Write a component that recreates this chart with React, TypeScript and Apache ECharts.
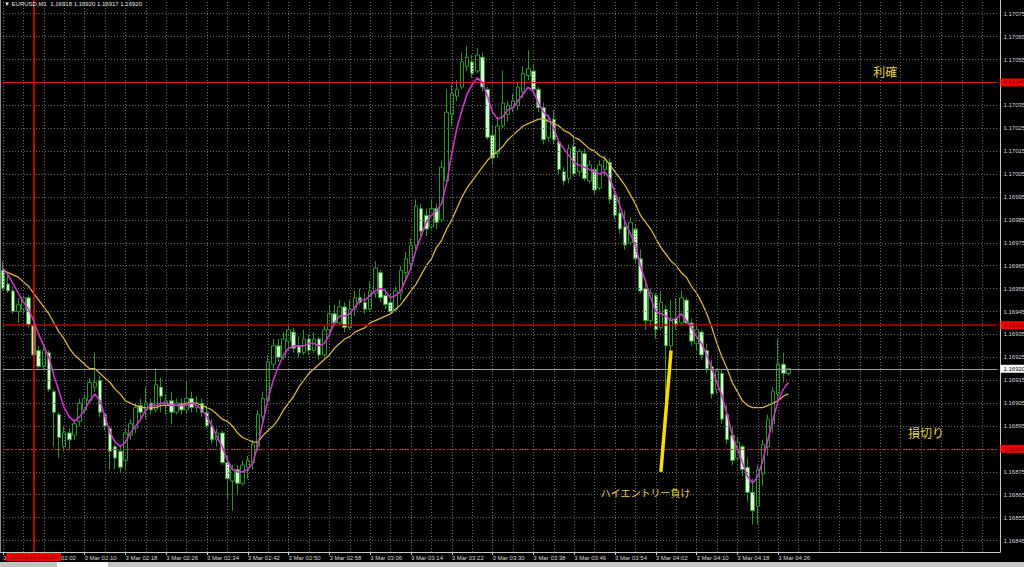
import React, { useEffect, useRef } from "react";
import * as echarts from "echarts";

const symbolName = "EURUSD,M1";
const dayLabel = "3 Mar";
const startMinute = 114; // 01:54
const futureBars = 41;

// [open, close, low, high]
const candles: number[][] = [
  [1.16963, 1.16955, 1.16954, 1.16967], [1.16957, 1.16954, 1.16953, 1.16961], [1.16954, 1.16945, 1.16944, 1.16956],
  [1.16945, 1.16948, 1.1694, 1.16951], [1.16946, 1.16951, 1.16944, 1.16952], [1.16951, 1.16939, 1.16938, 1.16952],
  [1.16939, 1.16926, 1.16925, 1.1694], [1.16928, 1.16921, 1.1692, 1.1693], [1.16921, 1.16928, 1.1692, 1.1693],
  [1.16927, 1.16911, 1.1691, 1.16928], [1.1691, 1.16901, 1.16886, 1.16911], [1.169, 1.1689, 1.16881, 1.16901],
  [1.16886, 1.16892, 1.16884, 1.16895], [1.16892, 1.16889, 1.16885, 1.16894], [1.16891, 1.16896, 1.16889, 1.16898],
  [1.16897, 1.16905, 1.16895, 1.16907], [1.16902, 1.16907, 1.169, 1.16909], [1.16906, 1.16914, 1.16905, 1.16916],
  [1.16912, 1.16914, 1.1691, 1.16927], [1.16915, 1.16901, 1.16899, 1.16917], [1.169, 1.16895, 1.16893, 1.16901],
  [1.16894, 1.16884, 1.16876, 1.16895], [1.16886, 1.16881, 1.16876, 1.16887], [1.16884, 1.16877, 1.16875, 1.16886],
  [1.1688, 1.16892, 1.16876, 1.16894], [1.16891, 1.16896, 1.16889, 1.16898], [1.16894, 1.16903, 1.16892, 1.16905],
  [1.16904, 1.16901, 1.16898, 1.16907], [1.16902, 1.16905, 1.16898, 1.16912], [1.16905, 1.16902, 1.169, 1.16907],
  [1.16902, 1.16913, 1.16901, 1.1692], [1.16912, 1.16908, 1.16901, 1.16916], [1.16904, 1.16906, 1.169, 1.16909],
  [1.16906, 1.16901, 1.16896, 1.1691], [1.16901, 1.16905, 1.169, 1.16907], [1.16905, 1.16902, 1.169, 1.16907],
  [1.16902, 1.16907, 1.169, 1.16915], [1.16907, 1.16903, 1.16901, 1.1691], [1.16903, 1.16905, 1.16901, 1.16908],
  [1.16905, 1.16901, 1.16899, 1.16907], [1.16901, 1.16895, 1.16894, 1.16904], [1.16895, 1.16889, 1.16887, 1.16898],
  [1.16889, 1.16892, 1.16886, 1.16894], [1.16892, 1.16879, 1.16878, 1.16893], [1.16879, 1.16872, 1.16863, 1.16882],
  [1.16871, 1.16876, 1.16858, 1.16878], [1.16876, 1.1687, 1.16865, 1.16878], [1.1687, 1.16878, 1.16869, 1.1688],
  [1.16877, 1.1688, 1.16872, 1.16882], [1.16879, 1.16887, 1.16876, 1.16889], [1.16886, 1.169, 1.16884, 1.16902],
  [1.16899, 1.16907, 1.16897, 1.1691], [1.16906, 1.16923, 1.16905, 1.16926], [1.16922, 1.1693, 1.1692, 1.16933],
  [1.1693, 1.16925, 1.16923, 1.16933], [1.16925, 1.16933, 1.16924, 1.16936], [1.16932, 1.16937, 1.16929, 1.16939],
  [1.16936, 1.16929, 1.16927, 1.16938], [1.1693, 1.16927, 1.16925, 1.16934], [1.16927, 1.16933, 1.16926, 1.16937],
  [1.16933, 1.16928, 1.16926, 1.16935], [1.16928, 1.16933, 1.16927, 1.16936], [1.16933, 1.16926, 1.16924, 1.16934],
  [1.16926, 1.16937, 1.16925, 1.16939], [1.16937, 1.16944, 1.16934, 1.16948], [1.16944, 1.1694, 1.16939, 1.16948],
  [1.1694, 1.16947, 1.16939, 1.1695], [1.16947, 1.16938, 1.16936, 1.16949], [1.16938, 1.16946, 1.16937, 1.1695],
  [1.16946, 1.16951, 1.16943, 1.16954], [1.16951, 1.16949, 1.16948, 1.16955], [1.16949, 1.16946, 1.16944, 1.16953],
  [1.16946, 1.16954, 1.16945, 1.16958], [1.16953, 1.16964, 1.16951, 1.16967], [1.16962, 1.16951, 1.16949, 1.16963],
  [1.16952, 1.16948, 1.16946, 1.16955], [1.16949, 1.16945, 1.16944, 1.16953], [1.16946, 1.16954, 1.16945, 1.16956],
  [1.16953, 1.16963, 1.1695, 1.16965], [1.16962, 1.16968, 1.16958, 1.16971], [1.16966, 1.16974, 1.16963, 1.16977],
  [1.16974, 1.16991, 1.16972, 1.16994], [1.1699, 1.1698, 1.16977, 1.16992], [1.16987, 1.16981, 1.16978, 1.1699],
  [1.16982, 1.1699, 1.16981, 1.16994], [1.1699, 1.16984, 1.16981, 1.16992], [1.16985, 1.17008, 1.16984, 1.17011],
  [1.17002, 1.17032, 1.17001, 1.17042], [1.17031, 1.1704, 1.17026, 1.17044], [1.17039, 1.17042, 1.17037, 1.17046],
  [1.17043, 1.17054, 1.17042, 1.17058], [1.17052, 1.17056, 1.1705, 1.17061], [1.17054, 1.17049, 1.17047, 1.17057],
  [1.1705, 1.17057, 1.17049, 1.1706], [1.17056, 1.17043, 1.17041, 1.17058], [1.17042, 1.17021, 1.1702, 1.17043],
  [1.17022, 1.17012, 1.17009, 1.17026], [1.17014, 1.17026, 1.17012, 1.1703], [1.17026, 1.17036, 1.17025, 1.1705],
  [1.17031, 1.17035, 1.17028, 1.17037], [1.17034, 1.17037, 1.17032, 1.1704], [1.17035, 1.17043, 1.17033, 1.17045],
  [1.17041, 1.17049, 1.17038, 1.17052], [1.17048, 1.17051, 1.17046, 1.17059], [1.1705, 1.17042, 1.1704, 1.17053],
  [1.17042, 1.17034, 1.17032, 1.17043], [1.17034, 1.1702, 1.17018, 1.17036], [1.17021, 1.17029, 1.17019, 1.17031],
  [1.17029, 1.1702, 1.17018, 1.17033], [1.17019, 1.17007, 1.17005, 1.1702], [1.17006, 1.17002, 1.17, 1.17008],
  [1.17003, 1.17016, 1.17001, 1.17018], [1.17017, 1.17005, 1.17004, 1.17022], [1.17006, 1.17015, 1.17004, 1.17016],
  [1.17014, 1.17003, 1.17002, 1.17016], [1.17002, 1.17009, 1.17001, 1.17011], [1.17007, 1.16998, 1.16996, 1.17008],
  [1.16999, 1.17009, 1.16998, 1.17011], [1.17007, 1.17011, 1.17004, 1.17013], [1.1701, 1.16994, 1.16992, 1.17012],
  [1.16996, 1.16987, 1.16985, 1.16999], [1.16988, 1.16981, 1.16979, 1.16995], [1.16982, 1.16974, 1.16972, 1.16989],
  [1.16975, 1.16984, 1.16974, 1.16986], [1.16981, 1.16968, 1.16966, 1.16983], [1.16968, 1.16954, 1.16953, 1.16972],
  [1.16955, 1.16941, 1.16937, 1.16959], [1.16941, 1.16953, 1.16939, 1.16955], [1.16952, 1.16937, 1.16933, 1.16953],
  [1.16938, 1.16949, 1.16937, 1.16954], [1.16946, 1.1693, 1.16898, 1.16948], [1.1693, 1.16942, 1.16928, 1.1695],
  [1.16942, 1.16939, 1.16937, 1.16951], [1.1694, 1.16951, 1.16939, 1.16954], [1.1695, 1.1694, 1.16939, 1.16951],
  [1.1694, 1.16932, 1.1693, 1.16942], [1.16931, 1.16937, 1.16928, 1.16939], [1.16936, 1.16926, 1.16924, 1.16937],
  [1.16928, 1.1692, 1.16918, 1.16931], [1.16921, 1.16909, 1.16907, 1.16924], [1.16911, 1.16919, 1.16909, 1.1692],
  [1.16918, 1.16898, 1.16896, 1.1692], [1.169, 1.16889, 1.16887, 1.16904], [1.16891, 1.1688, 1.16878, 1.16895],
  [1.16881, 1.16888, 1.1688, 1.1689], [1.16886, 1.16876, 1.16873, 1.16887], [1.16877, 1.16866, 1.16862, 1.16881],
  [1.16866, 1.16858, 1.16852, 1.16872], [1.1686, 1.16876, 1.16852, 1.16878], [1.16874, 1.16887, 1.16869, 1.16889],
  [1.16886, 1.16898, 1.16882, 1.169], [1.16896, 1.1691, 1.16892, 1.16912], [1.16909, 1.16922, 1.16906, 1.16933],
  [1.16922, 1.16918, 1.16914, 1.16927], [1.16918, 1.1692, 1.16917, 1.1692],
];

const fastMA = [
  1.16964, 1.16961, 1.16957, 1.16953, 1.16949, 1.16946, 1.16941, 1.16935, 1.1693, 1.16925,
  1.16917, 1.1691, 1.16903, 1.16899, 1.16897, 1.16899, 1.16902, 1.16906, 1.16909, 1.16906,
  1.16899, 1.16892, 1.16888, 1.16886, 1.16888, 1.16892, 1.16895, 1.16898, 1.16902, 1.16904,
  1.16904, 1.16905, 1.16905, 1.16904, 1.16904, 1.16904, 1.16904, 1.16905, 1.16904, 1.16902,
  1.16899, 1.16895, 1.1689, 1.16886, 1.1688, 1.16876, 1.16875, 1.16875, 1.16876, 1.16879,
  1.16887, 1.16897, 1.16907, 1.16915, 1.16921, 1.16926, 1.16929, 1.1693, 1.1693, 1.1693,
  1.16931, 1.16931, 1.1693, 1.16931, 1.16935, 1.1694, 1.16943, 1.16943, 1.16944, 1.16947,
  1.1695, 1.1695, 1.16952, 1.16954, 1.16955, 1.16954, 1.16951, 1.16952, 1.16954, 1.16959,
  1.16964, 1.16972, 1.16978, 1.16984, 1.16987, 1.16989, 1.16992, 1.17001, 1.17014, 1.17025,
  1.17033, 1.1704, 1.17044, 1.17047, 1.17045, 1.17039, 1.17032, 1.17029, 1.1703, 1.17033,
  1.17034, 1.17037, 1.1704, 1.17043, 1.17041, 1.17036, 1.17032, 1.1703, 1.17025, 1.17019,
  1.17016, 1.17013, 1.1701, 1.17009, 1.17008, 1.17007, 1.17006, 1.17005, 1.17006, 1.17003,
  1.16997, 1.16991, 1.16984, 1.16979, 1.16974, 1.16965, 1.16958, 1.16951, 1.16945, 1.16944,
  1.16943, 1.16941, 1.16942, 1.16944, 1.16941, 1.16938, 1.16934, 1.16931, 1.16926, 1.1692,
  1.16914, 1.16908, 1.169, 1.16891, 1.16885, 1.16879, 1.16873, 1.1687, 1.16873, 1.1688,
  1.16889, 1.16898, 1.16906, 1.16911, 1.16914,
];

const slowMA = [
  1.16963, 1.16962, 1.16961, 1.1696, 1.16958, 1.16956, 1.16953, 1.1695, 1.16947, 1.16944,
  1.1694, 1.16936, 1.16933, 1.16929, 1.16926, 1.16924, 1.16922, 1.1692, 1.1692, 1.16918,
  1.16916, 1.16914, 1.16911, 1.16909, 1.16906, 1.16905, 1.16904, 1.16903, 1.16903, 1.16903,
  1.16903, 1.16904, 1.16904, 1.16904, 1.16904, 1.16904, 1.16905, 1.16905, 1.16905, 1.16904,
  1.16903, 1.16902, 1.169, 1.16898, 1.16897, 1.16895, 1.16892, 1.1689, 1.16889, 1.16888,
  1.16888, 1.16891, 1.16893, 1.16895, 1.16898, 1.16902, 1.16905, 1.16908, 1.16912, 1.16915,
  1.16918, 1.1692, 1.16922, 1.16924, 1.16926, 1.16929, 1.16931, 1.16933, 1.16934, 1.16936,
  1.16937, 1.16938, 1.1694, 1.16941, 1.16942, 1.16943, 1.16944, 1.16946, 1.16948, 1.16951,
  1.16954, 1.16957, 1.16961, 1.16965, 1.16968, 1.16973, 1.16976, 1.16981, 1.16985, 1.1699,
  1.16995, 1.16999, 1.17002, 1.17005, 1.17008, 1.17011, 1.17013, 1.17015, 1.17017, 1.1702,
  1.17022, 1.17024, 1.17026, 1.17027, 1.17028, 1.17029, 1.17029, 1.17028, 1.17027, 1.17026,
  1.17024, 1.17023, 1.17021, 1.1702, 1.17018, 1.17016, 1.17015, 1.17013, 1.17012, 1.17009,
  1.17006, 1.17003, 1.17, 1.16996, 1.16992, 1.16987, 1.16984, 1.16981, 1.16977, 1.16973,
  1.1697, 1.16967, 1.16965, 1.16962, 1.1696, 1.16956, 1.16953, 1.16949, 1.16944, 1.16938,
  1.16931, 1.16925, 1.1692, 1.16914, 1.1691, 1.16906, 1.16904, 1.16903, 1.16903, 1.16903,
  1.16904, 1.16905, 1.16906, 1.16908, 1.16909,
];

const priceTicks = [
  1.16845, 1.16855, 1.16865, 1.16875, 1.16885, 1.16895, 1.16905, 1.16915, 1.16925, 1.16935, 1.16945, 1.16955,
  1.16965, 1.16975, 1.16985, 1.16995, 1.17005, 1.17015, 1.17025, 1.17035, 1.17045, 1.17055, 1.17065, 1.17075,
];

const takeProfit = 1.17045;
const entryLevel = 1.16939;
const stopLoss = 1.16885;
const bidPrice = 1.1692;
const markerBar = 6;
const markerLabel = "2021.03.03 02:00";
const entryStroke = [
  [131, 1.16928],
  [129, 1.16875],
];
const notes = [
  { text: "利確", bar: 173, price: 1.1705, size: 12 },
  { text: "損切り", bar: 181, price: 1.16892, size: 12 },
  { text: "ハイエントリー負け", bar: 126, price: 1.16866, size: 10 },
];

const FONT = "'Liberation Sans', Arial, sans-serif";
const JP = "'Noto Sans CJK JP', sans-serif";

export default function App() {
  const ref = useRef<HTMLDivElement>(null);
  useEffect(() => {
    document.body.style.margin = "0";
    document.body.style.background = "#000";
    const chart = echarts.init(ref.current!, null, { renderer: "svg" });

    const N = candles.length;
    const total = N + futureBars;
    const cats = Array.from({ length: total }, (_, i) => {
      const m = startMinute + i;
      const hh = String(Math.floor(m / 60)).padStart(2, "0");
      const mm = String(m % 60).padStart(2, "0");
      return `${dayLabel} ${hh}:${mm}`;
    });
    const showLabel = (idx: number) => idx % 8 === 0 && idx < N;

    const hLine = (p: number, lineStyle: any, label: any) => [
      { coord: [0, p], lineStyle, label },
      { coord: [total - 1, p] },
    ];

    const gridStyle = { color: "#6a6a6a", width: 1, type: [1, 2] as any };
    const hidden = [takeProfit, stopLoss];
    const hLines = priceTicks.map((p) =>
      hLine(p, gridStyle, {
        show: !hidden.includes(p),
        position: "end",
        distance: 6,
        formatter: p.toFixed(5),
        color: "#d4d4d4",
        fontSize: 6,
        fontFamily: FONT,
      })
    );
    const vLines: any[] = [];
    for (let i = 0; i < total; i += 4) {
      vLines.push({ xAxis: cats[i], lineStyle: gridStyle, label: { show: false } });
    }

    const levelLabel = (v: number, bg: string, fg: string) => ({
      show: true,
      position: "end",
      distance: 3,
      formatter: v.toFixed(5),
      backgroundColor: bg,
      color: fg,
      fontSize: 6,
      fontFamily: FONT,
      padding: [1, 4, 1, 3],
    });

    const last = candles[N - 1];
    const header = `▼ ${symbolName}  ${last[0].toFixed(5)} ${last[3].toFixed(5)} ${last[2].toFixed(5)} ${last[1].toFixed(5)}`;

    const option: any = {
      animation: false,
      backgroundColor: "#000000",
      grid: { left: 0, right: 24, top: 0, bottom: 15, containLabel: false },
      xAxis: {
        type: "category",
        data: cats,
        boundaryGap: true,
        axisLine: { show: true, lineStyle: { color: "#c8c8c8", width: 1 } },
        axisTick: { show: true, alignWithLabel: true, interval: showLabel, length: 3, lineStyle: { color: "#c8c8c8" } },
        axisLabel: {
          interval: showLabel,
          align: "left",
          margin: 3,
          fontSize: 6,
          color: "#d8d8d8",
          fontFamily: FONT,
        },
        splitLine: { show: false },
      },
      yAxis: [
        {
          type: "value",
          position: "right",
          min: 1.1684,
          max: 1.17081,
          axisLine: { show: true, lineStyle: { color: "#c8c8c8", width: 1 } },
          axisTick: { show: false },
          axisLabel: { show: false },
          splitLine: { show: false },
        },
        {
          type: "value",
          position: "left",
          min: 1.1684,
          max: 1.17081,
          axisLine: { show: true, lineStyle: { color: "#8a8a8a", width: 1 } },
          axisTick: { show: false },
          axisLabel: { show: false },
          splitLine: { show: false },
        },
      ],
      series: [
        {
          type: "line",
          data: [],
          z: 1,
          silent: true,
          markLine: {
            silent: true,
            symbol: ["none", "none"],
            animation: false,
            precision: 5,
            data: [...hLines, ...vLines],
          },
        },
        {
          type: "candlestick",
          data: candles,
          barWidth: 4,
          z: 3,
          itemStyle: {
            color: "#000000",
            color0: "#d8f6d0",
            borderColor: "#2a962a",
            borderColor0: "#2a962a",
            borderWidth: 1,
          },
          markLine: {
            silent: true,
            symbol: ["none", "none"],
            animation: false,
            precision: 5,
            data: [
              hLine(takeProfit, { color: "#d81818", width: 1, type: "solid" }, levelLabel(takeProfit, "#f00000", "#8a0000")),
              hLine(entryLevel, { color: "#b40000", width: 1.6, type: "solid" }, levelLabel(entryLevel, "#f00000", "#8a0000")),
              hLine(stopLoss, { color: "#d02828", width: 1, type: [2, 2] }, levelLabel(stopLoss, "#f00000", "#8a0000")),
              hLine(bidPrice, { color: "#9c9c9c", width: 1, type: "solid" }, levelLabel(bidPrice, "#ffffff", "#000000")),
              {
                xAxis: cats[markerBar],
                lineStyle: { color: "#ff0000", width: 1.5, type: "solid" },
                label: {
                  show: true,
                  position: "start",
                  distance: 1,
                  formatter: markerLabel,
                  backgroundColor: "#f00000",
                  color: "#8a0000",
                  fontSize: 6,
                  fontFamily: FONT,
                  padding: [1, 4],
                },
              },
              [
                { coord: [cats[entryStroke[0][0]], entryStroke[0][1]], lineStyle: { color: "#f6dc00", width: 3.5, type: "solid" }, label: { show: false } },
                { coord: [cats[entryStroke[1][0]], entryStroke[1][1]] },
              ],
            ],
          },
          markPoint: {
            silent: true,
            animation: false,
            data: notes.map((n) => ({
              coord: [cats[n.bar], n.price],
              symbol: "rect",
              symbolSize: 1,
              itemStyle: { color: "rgba(0,0,0,0)" },
              label: {
                show: true,
                position: "inside",
                formatter: n.text,
                color: "#e6d24c",
                fontSize: n.size,
                fontFamily: JP,
              },
            })),
          },
        },
        {
          type: "line",
          data: slowMA,
          z: 4,
          symbol: "none",
          showSymbol: false,
          silent: true,
          lineStyle: { color: "#d9b43c", width: 1.3 },
        },
        {
          type: "line",
          data: fastMA,
          z: 5,
          symbol: "none",
          showSymbol: false,
          silent: true,
          lineStyle: { color: "#cc33cc", width: 1.6 },
        },
      ],
      graphic: [
        {
          type: "text",
          left: 4,
          top: 1,
          z: 20,
          style: { text: header, fill: "#e6e6e6", fontSize: 6, fontFamily: FONT },
        },
        { type: "rect", left: 0, top: 562, z: 20, shape: { width: 1024, height: 5 }, style: { fill: "#c4c4c4" } },
        { type: "rect", left: 57, top: 562, z: 21, shape: { width: 51, height: 5 }, style: { fill: "#ffffff" } },
      ],
    };

    chart.setOption(option);
    return () => chart.dispose();
  }, []);
  return <div ref={ref} style={{ width: 1024, height: 567, background: "#000" }} />;
}
